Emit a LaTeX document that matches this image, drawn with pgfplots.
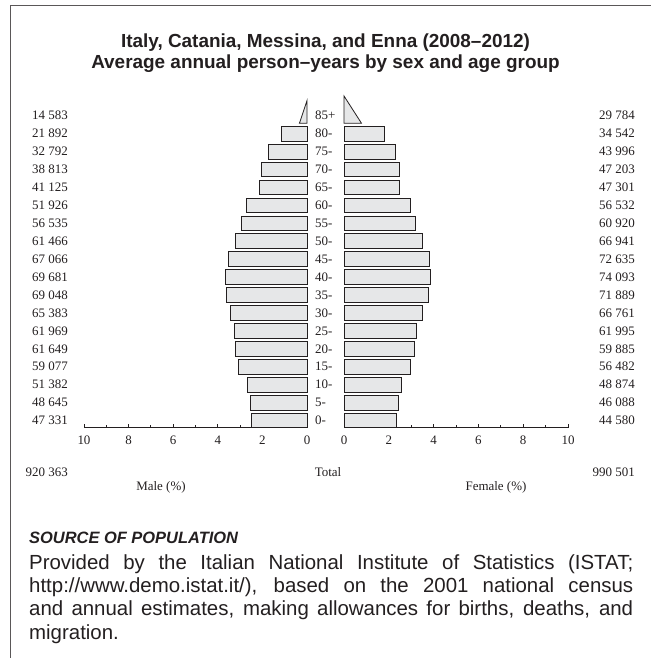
\documentclass[border=0pt]{standalone}
\usepackage{fontspec}
\setmainfont{Liberation Serif}
\newfontfamily\hv[Ligatures=TeX]{Liberation Sans}
\usepackage{pgfplots}
\pgfplotsset{compat=1.18}
\definecolor{barfill}{HTML}{E6E7E8}
\definecolor{ink}{HTML}{231F20}
\newcommand\lab{\fontsize{13}{15}\selectfont}
\pgfplotsset{pyr/.style={
  scale only axis, height=333.5bp,
  xmin=0, xmax=10, ymin=-0.4, ymax=18.2,
  axis x line*=bottom, axis y line=none,
  x axis line style={-, draw=ink, line width=0.8bp},
  xtick={0,2,...,10}, minor xtick={1,3,...,9},
  tick align=inside, major tick length=4bp, minor tick length=3bp,
  every tick/.style={draw=ink, line width=0.8bp},
  tick label style={font=\lab, text=ink},
  xticklabel style={yshift=-5bp},
  /pgf/number format/assume math mode=true,
  clip=false}}
\begin{document}
\begin{tikzpicture}
\path[use as bounding box] (0,0) rectangle (651bp,-658bp);
\draw[ink!75, line width=1bp] (10.5bp,-658bp) -- (10.5bp,-5.5bp) -- (651bp,-5.5bp);
\node[font=\hv\bfseries\fontsize{19}{20.5}\selectfont, align=center, text=ink] at (325.5bp,-53bp)
  {Italy, Catania, Messina, and Enna (2008–2012)\\Average annual person–years by sex and age group};

% Male
\begin{axis}[pyr, at={(84bp,-427.7bp)}, anchor=south west, width=223bp, x dir=reverse]
\addplot[xbar, bar width=0.82, fill=barfill, draw=ink, line width=0.8bp] coordinates {
(2.477,0) (2.546,1) (2.689,2) (3.092,3) (3.226,4) (3.243,5) (3.422,6) (3.613,7) (3.647,8)
(3.510,9) (3.217,10) (2.959,11) (2.717,12) (2.152,13) (2.031,14) (1.716,15) (1.146,16)};
\addplot[fill=barfill, draw=ink, line width=0.8bp] coordinates {(0,16.58) (0.34,16.58) (0,17.84)} -- cycle;
\end{axis}

% Female
\begin{axis}[pyr, at={(344bp,-427.7bp)}, anchor=south west, width=224bp]
\addplot[xbar, bar width=0.82, fill=barfill, draw=ink, line width=0.8bp] coordinates {
(2.333,0) (2.412,1) (2.558,2) (2.956,3) (3.134,4) (3.244,5) (3.494,6) (3.762,7) (3.877,8)
(3.801,9) (3.503,10) (3.188,11) (2.958,12) (2.475,13) (2.470,14) (2.302,15) (1.808,16)};
\addplot[fill=barfill, draw=ink, line width=0.8bp] coordinates {(0,16.58) (0.78,16.58) (0,18.1)} -- cycle;
\end{axis}

\foreach \m/\a/\f [count=\i from 0] in {
47 331/0-/44 580, 48 645/5-/46 088, 51 382/10-/48 874, 59 077/15-/56 482,
61 649/20-/59 885, 61 969/25-/61 995, 65 383/30-/66 761, 69 048/35-/71 889,
69 681/40-/74 093, 67 066/45-/72 635, 61 466/50-/66 941, 56 535/55-/60 920,
51 926/60-/56 532, 41 125/65-/47 301, 38 813/70-/47 203, 32 792/75-/43 996,
21 892/80-/34 542, 14 583/85+/29 784} {
  \pgfmathsetmacro\yy{-(420.5-\i*17.93)}
  \node[anchor=east, inner sep=0, font=\lab, text=ink] at (68bp,\yy bp) {\m};
  \node[anchor=west, inner sep=0, font=\lab, text=ink] at (315bp,\yy bp) {\a};
  \node[anchor=east, inner sep=0, font=\lab, text=ink] at (635bp,\yy bp) {\f};
}
\node[anchor=east, inner sep=0, font=\lab, text=ink] at (68bp,-472bp) {920 363};
\node[inner sep=0, font=\lab, text=ink] at (328bp,-472bp) {Total};
\node[anchor=east, inner sep=0, font=\lab, text=ink] at (635bp,-472bp) {990 501};
\node[inner sep=0, font=\lab, text=ink] at (161bp,-487bp) {Male (\%)};
\node[inner sep=0, font=\lab, text=ink] at (496bp,-487bp) {Female (\%)};

\node[anchor=west, inner sep=0, font=\hv\bfseries\itshape\fontsize{16.5}{19}\selectfont, text=ink] at (29bp,-538bp) {SOURCE OF POPULATION};
\node[anchor=north west, inner sep=0, text width=604bp, align=justify, font=\hv\fontsize{20.5}{23.5}\selectfont, text=ink] at (29bp,-554bp)
 {Provided by the Italian National Institute of Statistics (ISTAT;\linebreak http://www.demo.istat.it/), based on the 2001 national census\linebreak and annual estimates, making allowances for births, deaths, and\linebreak migration.};
\end{tikzpicture}
\end{document}
